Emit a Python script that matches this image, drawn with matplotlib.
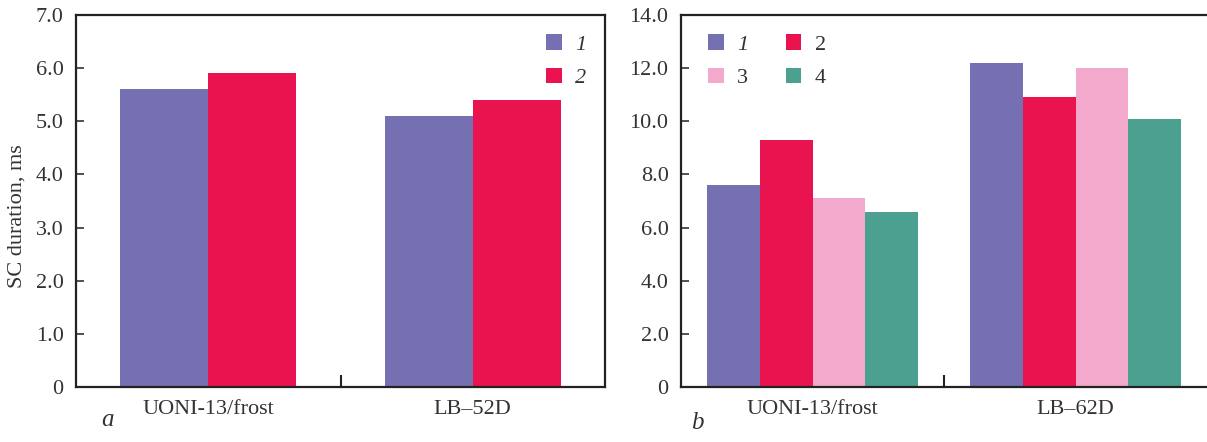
import matplotlib
matplotlib.use("Agg")
import matplotlib.pyplot as plt
from matplotlib.patches import Patch
from matplotlib.ticker import FixedLocator, FuncFormatter

# ---- data ----
cats_a = ["UONI-13/frost", "LB\u201352D"]
a_series1 = [5.6, 5.1]
a_series2 = [5.9, 5.4]
a_labels = ["1", "2"]

cats_b = ["UONI-13/frost", "LB\u201362D"]
b_series1 = [7.6, 12.2]
b_series2 = [9.3, 10.9]
b_series3 = [7.1, 12.0]
b_series4 = [6.6, 10.1]
b_labels = ["1", "2", "3", "4"]

yticks_a = [0, 1, 2, 3, 4, 5, 6, 7]
yticks_b = [0, 2, 4, 6, 8, 10, 12, 14]

colors = ["#7570b1", "#e8134f", "#f2a9cb", "#4ba08f"]

plt.rcParams['font.family'] = ['Liberation Serif', 'DejaVu Serif']
FS = 16
plt.rcParams['font.size'] = FS
TC = '#333333'

W, H = 1207, 442
fig = plt.figure(figsize=(W / 100, H / 100), dpi=100)
fig.patch.set_facecolor("white")

ax_a = fig.add_axes([76 / W, (H - 387) / H, 529 / W, 372 / H])
ax_b = fig.add_axes([681 / W, (H - 387) / H, 526 / W, 372 / H])


def fmt(v, pos):
    return "0" if v == 0 else f"{v:.1f}"


def style(ax, yt):
    ax.set_xlim(-0.5, 1.5)
    ax.set_ylim(yt[0], yt[-1])
    ax.yaxis.set_major_locator(FixedLocator(yt))
    ax.yaxis.set_major_formatter(FuncFormatter(fmt))
    ax.tick_params(axis='y', direction='in', length=6, width=1.2,
                   pad=9, labelsize=FS, colors=TC)
    ax.set_xticks([0, 1])
    ax.set_xticks([0.5], minor=True)
    ax.tick_params(axis='x', which='major', length=0, pad=9,
                   labelsize=FS, colors=TC)
    ax.tick_params(axis='x', which='minor', direction='in', length=9,
                   width=1.5, color='#222222')
    for s in ax.spines.values():
        s.set_linewidth(1.6)
        s.set_color('#222222')


# panel a
wa = 1 / 3
xa = [0, 1]
for i, (vals, c) in enumerate(zip([a_series1, a_series2], colors[:2])):
    ax_a.bar([x + (i - 0.5) * wa for x in xa], vals, width=wa, color=c,
             label=a_labels[i])
style(ax_a, yticks_a)
ax_a.set_xticklabels(cats_a)

# panel b
wb = 0.2
for i, (vals, c) in enumerate(zip([b_series1, b_series2, b_series3, b_series4], colors)):
    ax_b.bar([x + (i - 1.5) * wb for x in xa], vals, width=wb, color=c,
             label=b_labels[i])
style(ax_b, yticks_b)
ax_b.set_xticklabels(cats_b)
ax_b.spines['right'].set_visible(False)

# legends
ha = [Patch(facecolor=colors[i], edgecolor='none') for i in range(2)]
leg_a = ax_a.legend(ha, a_labels, loc='upper left',
                    bbox_to_anchor=(546 / W, (H - 34) / H),
                    bbox_transform=fig.transFigure, frameon=False,
                    handlelength=0.7, handleheight=0.7, handletextpad=0.6,
                    labelspacing=0.6, borderpad=0, borderaxespad=0,
                    fontsize=FS)
for t in leg_a.get_texts():
    t.set_style('italic')
    t.set_color(TC)

order = [0, 2, 1, 3]  # row-wise order: 1 2 / 3 4
hb = [Patch(facecolor=colors[i], edgecolor='none') for i in order]
leg_b = ax_b.legend(hb, [b_labels[i] for i in order], loc='upper left', ncol=2,
                    bbox_to_anchor=(708 / W, (H - 34) / H),
                    bbox_transform=fig.transFigure, frameon=False,
                    handlelength=0.7, handleheight=0.7, handletextpad=0.6,
                    labelspacing=0.6, columnspacing=1.7, borderpad=0,
                    borderaxespad=0, fontsize=FS)
for t in leg_b.get_texts():
    t.set_color(TC)
leg_b.get_texts()[0].set_style('italic')

# y label and panel letters
fig.text(17 / W, (H - 216) / H, "SC duration, ms", rotation=90,
         ha='center', va='center', fontsize=FS, color=TC)
fig.text(108 / W, (H - 426) / H, "a", style='italic', ha='center',
         va='baseline', fontsize=FS + 2, color=TC)
fig.text(697 / W, (H - 429) / H, "b", style='italic', ha='center',
         va='baseline', fontsize=FS + 2, color=TC)

fig.savefig("out.png", dpi=100, facecolor="white")
